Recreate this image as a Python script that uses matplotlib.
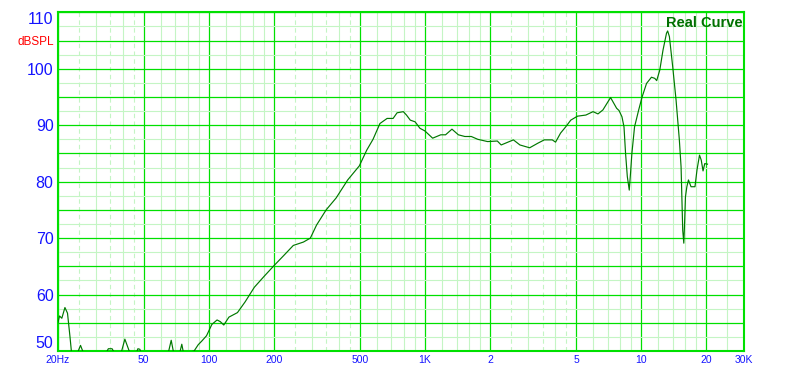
import matplotlib
matplotlib.use("Agg")
import matplotlib.pyplot as plt
from matplotlib.ticker import FixedLocator, NullFormatter

# ============================================================
# Data
# ============================================================
freq_hz = [
    20, 20.4, 20.9, 21.6, 22.2, 22.8, 23.2, 24.6, 25.5, 26.4,
    33.3, 34.3, 35.7, 36.8, 39.2, 40.9, 43.3, 46.0, 47.0, 48.0, 48.7,
    64.8, 67.0, 68.9, 73.2, 75.0, 76.5, 85.5, 89.3, 93.0, 97.6,
    103.3, 109.2, 113, 117.3, 123.9, 135.7, 147.2, 162.5, 180, 200,
    222, 246, 274, 295, 315, 349, 388, 439, 497, 538, 575, 619, 668,
    712, 743, 794, 821, 855, 900, 948, 998, 1085, 1183, 1245, 1333,
    1427, 1529, 1638, 1755, 1948, 2161, 2252, 2565, 2749, 3050, 3323,
    3562, 3880, 4018, 4238, 4475, 4726, 5075, 5550, 5990, 6312, 6652,
    7220, 7700, 7900, 8150, 8330, 8470, 8630, 8810, 8930, 9060, 9320,
    9740, 10100, 10590, 11160, 11560, 11800, 12200, 12620, 13100,
    13260, 13510, 13990, 14500, 15020, 15300, 15570, 15750, 15860,
    16030, 16270, 16550, 17010, 17740, 18130, 18620, 18970, 19330,
    19690, 20270,
]
spl_db = [
    54.9, 56.2, 55.8, 57.7, 56.7, 52.5, 49.5, 49.5, 51.0, 49.5,
    49.5, 50.4, 50.4, 49.5, 49.5, 52.1, 49.5, 49.5, 50.4, 50.3, 49.5,
    49.5, 51.9, 49.5, 49.5, 51.2, 49.5, 50.0, 51.1, 51.8, 52.7,
    54.7, 55.5, 55.2, 54.6, 56.0, 56.8, 58.7, 61.3, 63.2, 65.1,
    66.9, 68.7, 69.3, 70.0, 72.3, 75.0, 77.1, 80.3, 82.8, 85.6, 87.5, 90.3, 91.2,
    91.2, 92.2, 92.4, 91.8, 90.9, 90.6, 89.45, 89.0, 87.7, 88.3, 88.3, 89.3,
    88.3, 88.0, 88.0, 87.5, 87.1, 87.2, 86.5, 87.4, 86.5, 86.0, 86.8,
    87.4, 87.4, 87.0, 88.6, 89.7, 90.9, 91.6, 91.8, 92.4, 92.0, 92.7,
    94.9, 93.0, 92.6, 91.5, 89.7, 85.0, 80.9, 78.5, 81.5, 85.0, 89.7,
    92.7, 95.0, 97.4, 98.5, 98.3, 97.9, 99.8, 103.3, 106.3,
    106.7, 105.7, 100.4, 94.5, 87.4, 82.6, 71.4, 69.1, 72.0,
    77.3, 79.1, 80.3, 79.1, 79.1, 82.1, 84.7, 83.8, 81.9,
    83.2, 83.1,
]

# Axis ticks / labels
x_major = [20, 50, 100, 200, 500, 1000, 2000, 5000, 10000, 20000, 30000]
x_labels = ["20Hz", "50", "100", "200", "500", "1K", "2", "5", "10", "20", "30K"]
x_minor_solid = [30, 40, 60, 70, 80, 90, 120, 140, 160, 180, 300, 400, 600, 700,
                 800, 900, 1200, 1400, 1600, 1800, 3000, 4000, 6000, 7000, 8000,
                 9000, 12000, 14000, 16000, 18000, 25000]
x_minor_dashed = [25, 35, 45, 250, 350, 450, 2500, 3500, 4500]

y_major = [50, 55, 60, 65, 70, 75, 80, 85, 90, 95, 100, 105, 110]
y_labels = ["50", "", "60", "", "70", "", "80", "", "90", "", "100", "dBSPL", "110"]
y_minor = [52.5, 57.5, 62.5, 67.5, 72.5, 77.5, 82.5, 87.5, 92.5, 97.5, 102.5, 107.5]

# ============================================================
# Colors
# ============================================================
GRID_MAJOR = '#00e000'
GRID_MINOR = '#c4f5c4'
CURVE = '#007800'
LABEL_BLUE = '#1414ff'

plt.rcParams['font.family'] = ['Liberation Sans', 'DejaVu Sans']

fig = plt.figure(figsize=(8.07, 3.86), dpi=100)
ax = fig.add_axes([0.0715, 0.0907, 0.8508, 0.8774])

ax.set_xscale('log')
ax.set_xlim(20, 30000)
ax.set_ylim(50, 110)

# Grid
ax.xaxis.set_major_locator(FixedLocator(x_major))
ax.xaxis.set_minor_locator(FixedLocator(x_minor_solid))
ax.xaxis.set_minor_formatter(NullFormatter())
ax.yaxis.set_major_locator(FixedLocator(y_major))
ax.yaxis.set_minor_locator(FixedLocator(y_minor))
ax.yaxis.set_minor_formatter(NullFormatter())

ax.grid(which='major', color=GRID_MAJOR, linewidth=0.9, zorder=1)
ax.grid(which='minor', color=GRID_MINOR, linewidth=0.8, zorder=0)
for f in x_minor_dashed:
    ax.axvline(f, color=GRID_MINOR, linewidth=0.8, linestyle=(0, (4, 3)), zorder=0)
ax.set_axisbelow(True)

for sp in ax.spines.values():
    sp.set_color(GRID_MAJOR)
    sp.set_linewidth(1.5)

# Curve
ax.plot(freq_hz, spl_db, color=CURVE, linewidth=0.85, zorder=3, clip_on=True)

# Tick labels
ax.set_xticks(x_major, x_labels)
ax.set_yticks(y_major, y_labels)
ax.tick_params(which='both', length=0)
ax.tick_params(axis='x', labelsize=7.5, labelcolor=LABEL_BLUE, pad=3)
ax.tick_params(axis='y', labelsize=11.5, labelcolor=LABEL_BLUE, pad=3)

for lbl in ax.get_yticklabels():
    if lbl.get_text() == "dBSPL":
        lbl.set_color('#ff0000')
        lbl.set_fontsize(8.5)
    elif lbl.get_text() == "110":
        lbl.set_va('top')
    elif lbl.get_text() == "50":
        lbl.set_va('bottom')

ax.text(0.997, 0.99, "Real Curve", transform=ax.transAxes, ha='right', va='top',
        fontsize=10.5, fontweight='bold', color='#007000')

fig.savefig("out.png", dpi=100, facecolor='white')
